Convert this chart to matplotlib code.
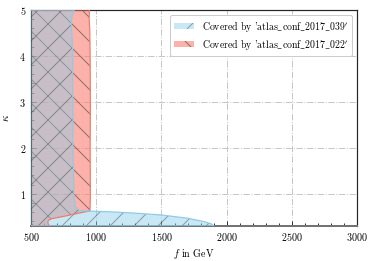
import matplotlib.pyplot as plt
import numpy as np

#? Computer Modern look, like the LaTeX original
plt.rcParams['font.family'] = ['cmr10', 'DejaVu Serif']
plt.rcParams['mathtext.fontset'] = 'cm'
plt.rcParams['axes.formatter.use_mathtext'] = True
plt.rcParams['hatch.linewidth'] = 0.5

# Region covered by atlas_conf_2017_039 (f in GeV, kappa)
f_039 = [500, 1900, 1880, 1820, 1700, 1500, 1300, 1100, 1000, 900, 870, 840,
         830, 825, 820, 822, 820, 818, 820, 815, 808, 815, 830, 500]
k_039 = [0.3, 0.3, 0.35, 0.40, 0.47, 0.54, 0.58, 0.61, 0.62, 0.63, 0.64, 0.72,
         0.9, 1.5, 2.0, 2.5, 3.0, 3.5, 4.0, 4.4, 4.7, 4.85, 5.0, 5.0]

# Region covered by atlas_conf_2017_022
f_022 = [500, 640, 632, 628, 635, 660, 750, 850, 952, 955, 953, 955, 953,
         950, 945, 948, 500]
k_022 = [0.3, 0.3, 0.34, 0.39, 0.43, 0.46, 0.51, 0.57, 0.63, 1.0, 2.0, 3.0,
         4.0, 4.6, 4.8, 5.0, 5.0]

lab_039 = r"Covered by '$\mathrm{atlas\_conf\_2017\_039}'$"
lab_022 = r"Covered by '$\mathrm{atlas\_conf\_2017\_022}'$"

fig = plt.figure(figsize=(374 / 144, 261 / 144), dpi=144)
ax = fig.add_axes([0.083, 0.134, 0.872, 0.828])

# red first, blue on top -> overlap gets the greyish tint
ax.fill(f_022, k_022, facecolor='salmon', alpha=0.6, edgecolor='0.25',
        linewidth=0, hatch='\\\\', label=lab_022, zorder=2)
ax.fill(f_039, k_039, facecolor='skyblue', alpha=0.45, edgecolor='0.25',
        linewidth=0, hatch='//', label=lab_039, zorder=3)
ax.plot(f_022, k_022, color='#f27a68', lw=0.6, zorder=4)
ax.plot(f_039, k_039, color='#8ccbe6', lw=0.6, zorder=5)

ax.set_xlim(500, 3000)
ax.set_ylim(0.3, 5)
ax.set_xticks([500, 1000, 1500, 2000, 2500, 3000])
ax.set_yticks([1, 2, 3, 4, 5])
ax.set_xticks(np.arange(500, 3001, 100), minor=True)
ax.set_yticks(np.arange(0.4, 5.01, 0.2), minor=True)
ax.tick_params(which='both', direction='in', labelsize=5.0, width=0.5,
               color='0.2', pad=2.5)
ax.tick_params(which='major', length=2.5)
ax.tick_params(which='minor', length=1.5)

ax.grid(True, which='major', linestyle='-.', color='0.78', lw=0.5)
ax.set_axisbelow(True)

for side in ['left', 'top', 'right']:
    ax.spines[side].set_linewidth(0.6)
    ax.spines[side].set_color('0.15')
ax.spines['bottom'].set_linewidth(1.0)
ax.spines['bottom'].set_color('0.45')

ax.set_xlabel('$f$ in GeV', fontsize=5.0, labelpad=2)
ax.set_ylabel(r'$\kappa$', fontsize=5.5, labelpad=4)

handles, labels = ax.get_legend_handles_labels()
leg = ax.legend(handles[::-1], labels[::-1], loc='upper right', fontsize=4.9,
                framealpha=1, edgecolor='0.8', fancybox=True,
                handlelength=2.0, handleheight=0.6, borderpad=0.4,
                labelspacing=0.3)
leg.get_frame().set_linewidth(0.5)

fig.savefig('out.png', dpi=144)
